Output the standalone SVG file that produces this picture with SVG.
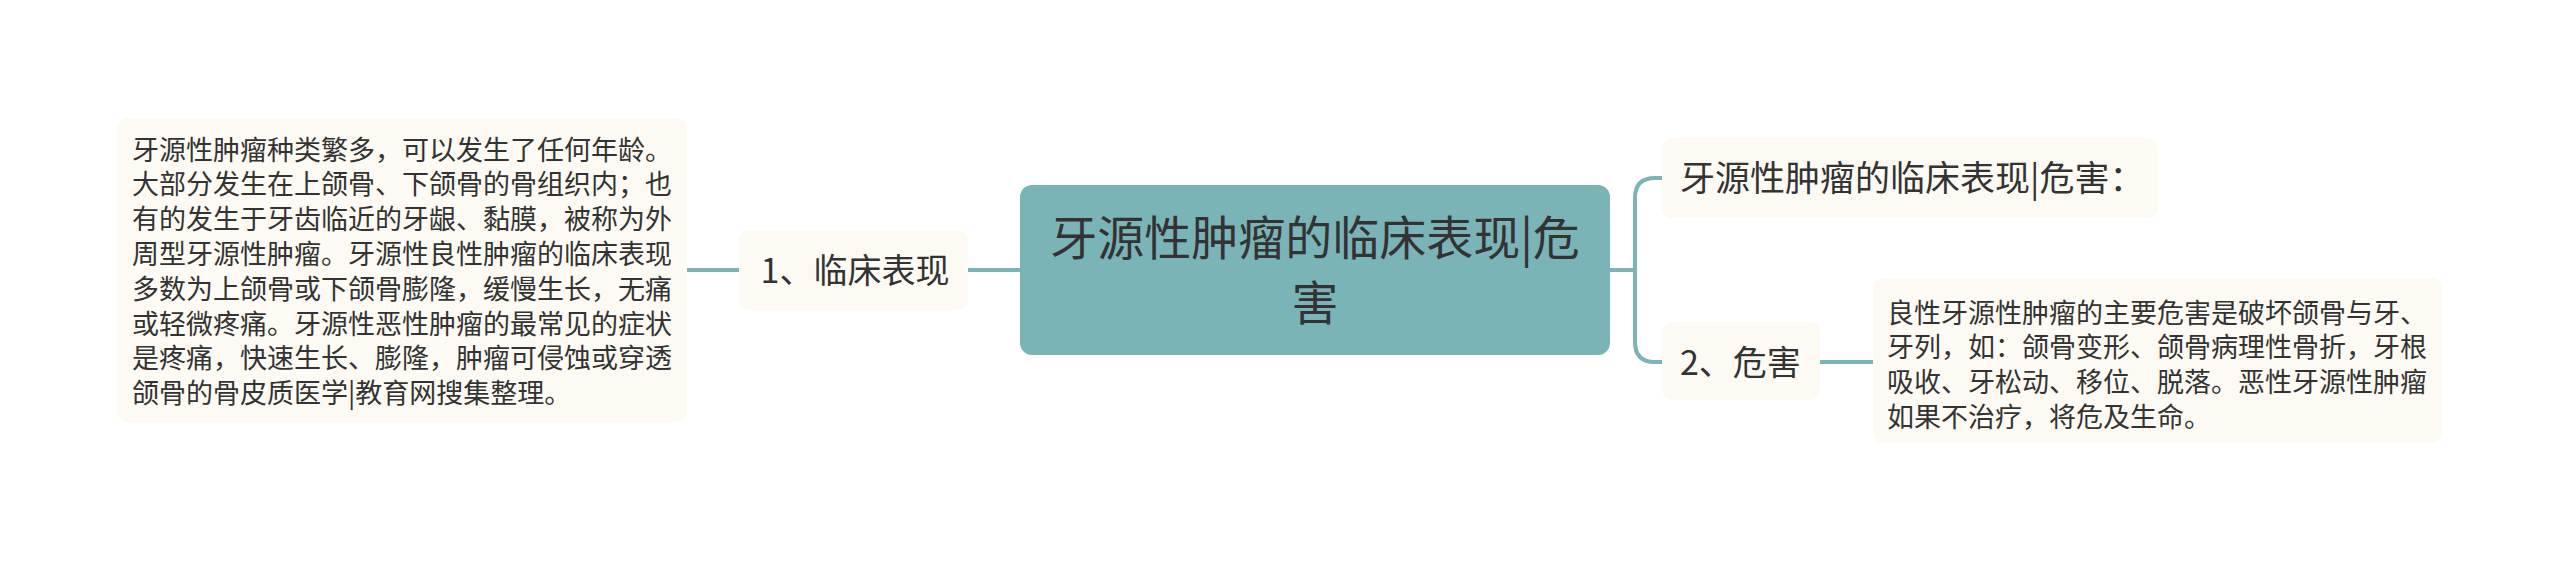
<svg xmlns="http://www.w3.org/2000/svg" width="2560" height="562" viewBox="0 0 2560 562">
<style>
.bg{fill:#ffffff}
.leaf{fill:#FCFAF2}
.center{fill:#7BB4B7}
.conn{fill:none;stroke:#7BB4B7;stroke-width:4;stroke-linecap:butt}
text{font-family:"Noto Sans CJK SC","Noto Sans",sans-serif;fill:#333333}
.t27{font-size:27px}
.t34{font-size:34px}
.t35{font-size:35px}
.t47{font-size:47px}
</style>
<rect class="bg" x="0" y="0" width="2560" height="562"/>
<g id="connectors">
<path class="conn" d="M687,270 H739"/>
<path class="conn" d="M968,270 H1020"/>
<path class="conn" d="M1610,270 H1635"/>
<path class="conn" d="M1662,178 H1655 Q1635,178 1635,198 V342 Q1635,362 1655,362 H1662"/>
<path class="conn" d="M1820,362 H1873"/>
</g>
<g id="node-left-detail">
<rect class="leaf" x="117" y="118" width="570" height="304" rx="10"/>
<text class="t27" x="132" y="159.5">牙源性肿瘤种类繁多，可以发生了任何年龄。</text>
<text class="t27" x="132" y="194.3">大部分发生在上颌骨、下颌骨的骨组织内；也</text>
<text class="t27" x="132" y="229.1">有的发生于牙齿临近的牙龈、黏膜，被称为外</text>
<text class="t27" x="132" y="263.9">周型牙源性肿瘤。牙源性良性肿瘤的临床表现</text>
<text class="t27" x="132" y="298.7">多数为上颌骨或下颌骨膨隆，缓慢生长，无痛</text>
<text class="t27" x="132" y="333.5">或轻微疼痛。牙源性恶性肿瘤的最常见的症状</text>
<text class="t27" x="132" y="368.3">是疼痛，快速生长、膨隆，肿瘤可侵蚀或穿透</text>
<text class="t27" x="132" y="403.1">颌骨的骨皮质医学|教育网搜集整理。</text>
</g>
<g id="node-clinical">
<rect class="leaf" x="739" y="230" width="229" height="80" rx="10"/>
<text class="t34" x="855" y="283" text-anchor="middle">1、临床表现</text>
</g>
<g id="node-center">
<rect class="center" x="1020" y="185" width="590" height="170" rx="12"/>
<text class="t47" x="1315" y="254.5" text-anchor="middle">牙源性肿瘤的临床表现|危</text>
<text class="t47" x="1315" y="319.5" text-anchor="middle">害</text>
</g>
<g id="node-title-right">
<rect class="leaf" x="1662" y="138" width="496" height="80" rx="10"/>
<text class="t35" x="1680" y="191">牙源性肿瘤的临床表现|危害：</text>
</g>
<g id="node-harm">
<rect class="leaf" x="1662" y="322" width="158" height="78" rx="10"/>
<text class="t34" x="1680" y="375">2、危害</text>
</g>
<g id="node-harm-detail">
<rect class="leaf" x="1873" y="278" width="569" height="165" rx="10"/>
<text class="t27" x="1887" y="322.5">良性牙源性肿瘤的主要危害是破坏颌骨与牙、</text>
<text class="t27" x="1887" y="357.3">牙列，如：颌骨变形、颌骨病理性骨折，牙根</text>
<text class="t27" x="1887" y="392.1">吸收、牙松动、移位、脱落。恶性牙源性肿瘤</text>
<text class="t27" x="1887" y="426.9">如果不治疗，将危及生命。</text>
</g>
</svg>
